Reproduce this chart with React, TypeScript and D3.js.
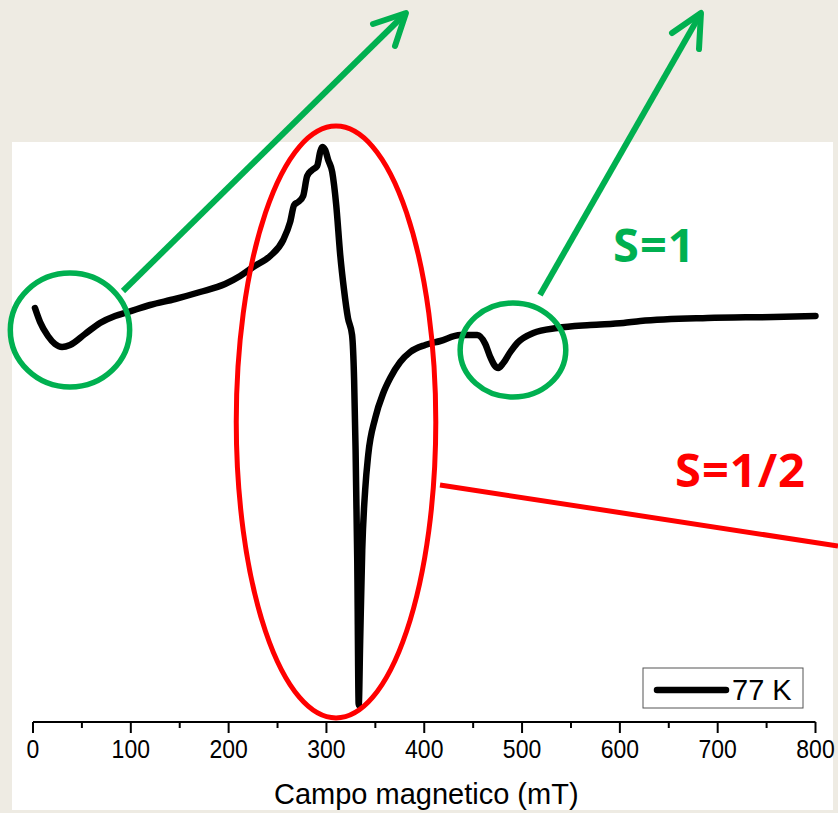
import React from "react";
import * as d3 from "d3";

// EPR spectrum at 77 K: magnetic field (mT) vs signal (a.u.)
const fieldValues = [2.0, 7.2, 15.3, 22.5, 29.7, 37.9, 53.2, 68.5, 83.9, 97.2, 119.7, 145.3, 170.8, 196.4, 211.8, 225.1, 242.5, 255.8, 262.9, 267.0, 271.1, 276.2, 280.3, 285.4, 290.5, 293.6, 295.7, 298.7, 301.8, 305.9, 310.0, 314.1, 318.0, 322.0, 326.2, 328.3, 329.8, 331.5, 333.0, 334.5, 336.6, 339.6, 342.7, 349.9, 358.1, 365.2, 375.4, 385.7, 401.0, 416.4, 436.8, 454.2, 462.4, 467.5, 471.6, 475.7, 480.8, 488.0, 495.1, 511.5, 536.1, 569.8, 603.6, 621.0, 689.5, 757.0, 800.0];
const signalValues = [414, 400, 386, 378, 375, 377, 388, 399, 406, 410, 417, 423, 430, 438, 446, 455, 466, 482, 500, 517, 520, 526, 546, 552, 556, 570, 575, 572, 562, 550, 517, 467, 432, 404, 387, 342, 272, 162, 17, 82, 172, 232, 267, 304, 329, 344, 360, 370, 377, 381, 387, 387, 378, 365, 357, 354, 359, 370, 379, 389, 394, 397, 399, 401, 404, 405, 406];

const xTickValues = [0, 100, 200, 300, 400, 500, 600, 700, 800];
const xMinorTickValues = [50, 150, 250, 350, 450, 550, 650, 750];
const xAxisTitle = "Campo magnetico (mT)";
const legendLabel = "77 K";

// annotations (data units)
const greenCircles = [
  { cx: 37.8, cy: 392, rx: 61, ry: 57 },
  { cx: 490.7, cy: 372, rx: 54, ry: 47 },
];
const greenArrows = [
  { x0: 92.0, y0: 431, x1: 381.3, y1: 709, w1x: 347.6, w1y: 698, w2x: 370.1, w2y: 676 },
  { x0: 518.3, y0: 427, x1: 682.9, y1: 709, w1x: 653.3, w1y: 689, w2x: 680.9, w2y: 673 },
];
const redEllipse = { cx: 309.8, cy: 300, rx: 102, ry: 296 };
const redLine = { x0: 416.1, y0: 237, x1: 823, y1: 176 };
const labelS1 = { text: "S=1", x: 593, y: 460 };
const labelSHalf = { text: "S=1/2", x: 656.4, y: 235 };

const W = 838;
const H = 813;
const GREEN = "#00B050";
const RED = "#FF0000";

export default function App() {
  const x = d3.scaleLinear().domain([0, 800]).range([33, 815.5]);
  const y = d3.scaleLinear().domain([0, 600]).range([722, 122]);
  const data = fieldValues.map((f, i) => [f, signalValues[i]] as [number, number]);
  const line = d3
    .line<[number, number]>()
    .x((d) => x(d[0]))
    .y((d) => y(d[1]))
    .curve(d3.curveMonotoneX);
  const kx = (v: number) => x(v) - x(0);
  const ky = (v: number) => y(0) - y(v);
  const axisY = y(0);
  const font = "'Liberation Sans', Arial, sans-serif";
  const bold = "'Open Sans', 'DejaVu Sans', sans-serif";

  return (
    <svg
      width={W}
      height={H}
      style={{ position: "absolute", left: 0, top: 0, display: "block" }}
    >
      <rect x={0} y={0} width={W} height={H} fill="#EEEBE3" />
      <rect x={12} y={142} width={821} height={668} fill="#FFFFFF" />

      {/* axis */}
      <line x1={x(0)} x2={x(800)} y1={axisY} y2={axisY} stroke="#000" strokeWidth={2} />
      {xTickValues.map((t) => (
        <g key={"t" + t}>
          <line x1={x(t)} x2={x(t)} y1={axisY} y2={axisY + 11} stroke="#000" strokeWidth={2} />
          <text
            x={x(t)}
            y={axisY + 36}
            textAnchor="middle"
            fontFamily={font}
            fontSize={25}
            fill="#000"
            transform={`translate(${x(t)},0) scale(0.92,1) translate(${-x(t)},0)`}
          >
            {t}
          </text>
        </g>
      ))}
      {xMinorTickValues.map((t) => (
        <line key={"m" + t} x1={x(t)} x2={x(t)} y1={axisY} y2={axisY + 6} stroke="#000" strokeWidth={2} />
      ))}
      <text
        x={x(400) + 2}
        y={axisY + 82}
        textAnchor="middle"
        fontFamily={font}
        fontSize={29}
        fill="#000"
      >
        {xAxisTitle}
      </text>

      {/* spectrum */}
      <path
        d={line(data) || ""}
        fill="none"
        stroke="#000"
        strokeWidth={6.5}
        strokeLinejoin="round"
        strokeLinecap="round"
      />

      {/* legend */}
      <rect x={643} y={668} width={160} height={40} fill="#fff" stroke="#555" strokeWidth={1} />
      <line x1={657} x2={726} y1={690} y2={690} stroke="#000" strokeWidth={6.5} strokeLinecap="round" />
      <text x={732} y={700} fontFamily={font} fontSize={29} fill="#000">
        {legendLabel}
      </text>

      {/* red annotation */}
      <ellipse
        cx={x(redEllipse.cx)}
        cy={y(redEllipse.cy)}
        rx={kx(redEllipse.rx)}
        ry={ky(redEllipse.ry)}
        fill="none"
        stroke={RED}
        strokeWidth={5}
      />
      <line
        x1={x(redLine.x0)}
        y1={y(redLine.y0)}
        x2={x(redLine.x1)}
        y2={y(redLine.y1)}
        stroke={RED}
        strokeWidth={5}
      />

      {/* green annotations */}
      {greenCircles.map((c, i) => (
        <ellipse
          key={"c" + i}
          cx={x(c.cx)}
          cy={y(c.cy)}
          rx={kx(c.rx)}
          ry={ky(c.ry)}
          fill="none"
          stroke={GREEN}
          strokeWidth={5.5}
        />
      ))}
      {greenArrows.map((a, i) => (
        <g key={"a" + i} stroke={GREEN} strokeWidth={6} fill="none" strokeLinecap="round" strokeLinejoin="round">
          <line x1={x(a.x0)} y1={y(a.y0)} x2={x(a.x1)} y2={y(a.y1)} strokeLinecap="butt" />
          <polyline
            points={`${x(a.w1x)},${y(a.w1y)} ${x(a.x1)},${y(a.y1)} ${x(a.w2x)},${y(a.w2y)}`}
          />
        </g>
      ))}

      <text
        x={x(labelS1.x)}
        y={y(labelS1.y)}
        fontFamily={bold}
        fontWeight={700}
        fontSize={47}
        letterSpacing={1}
        fill={GREEN}
      >
        {labelS1.text}
      </text>
      <text
        x={x(labelSHalf.x)}
        y={y(labelSHalf.y)}
        fontFamily={bold}
        fontWeight={700}
        fontSize={47}
        letterSpacing={1}
        fill={RED}
      >
        {labelSHalf.text}
      </text>
    </svg>
  );
}
